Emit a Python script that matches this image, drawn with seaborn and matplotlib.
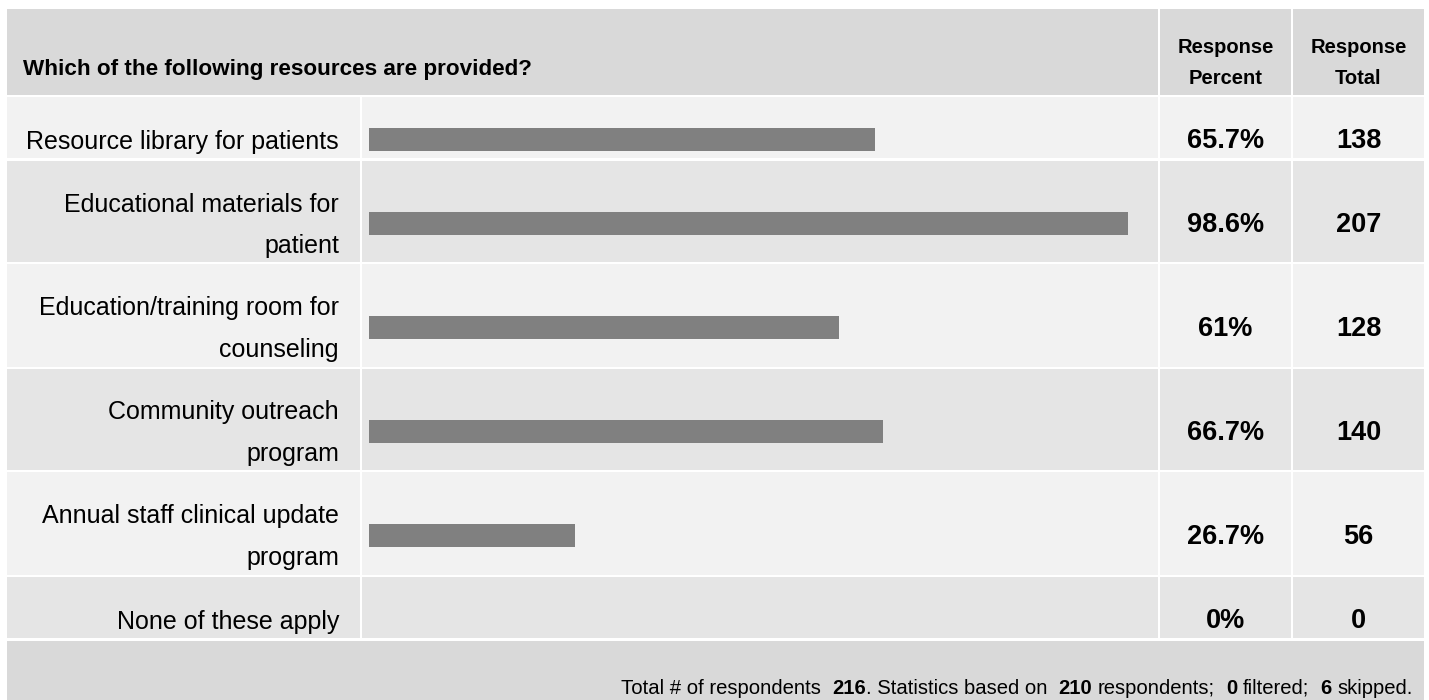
import matplotlib
matplotlib.use("Agg")
import seaborn as sns
from matplotlib import pyplot as plt
from matplotlib.patches import Rectangle

# survey data
question = "Which of the following resources are provided?"
answer_options = [
    "Resource library for patients",
    "Educational materials for\npatient",
    "Education/training room for\ncounseling",
    "Community outreach\nprogram",
    "Annual staff clinical update\nprogram",
    "None of these apply",
]
response_percent = [65.7, 98.6, 61.0, 66.7, 26.7, 0.0]
percent_labels = ["65.7%", "98.6%", "61%", "66.7%", "26.7%", "0%"]
response_total = [138, 207, 128, 140, 56, 0]
total_respondents = 216
answered = 210
filtered = 0
skipped = 6

sns.set_theme(style="white")
plt.rcParams['font.family'] = ['Liberation Sans', 'DejaVu Sans']
plt.rcParams['text.color'] = 'black'

W, H = 1429, 700
fig = plt.figure(figsize=(W / 100, H / 100), dpi=100)
fig.patch.set_facecolor("white")

# background axes in pixel units, y pointing down
bg = fig.add_axes([0, 0, 1, 1])
bg.set_xlim(0, W)
bg.set_ylim(H, 0)
bg.axis('off')

HEAD_C = "#d9d9d9"
ROW_C = ["#f2f2f2", "#e5e5e5"]
BAR_C = "#808080"

# table geometry (pixels)
cols = [(7, 360), (362, 1158), (1160, 1291), (1293, 1424)]
header = (9, 95)
rows = [(97, 158), (161, 262), (264, 367), (369, 470), (472, 575), (577, 638)]
footer = (641, 700)


def cell(x0, x1, y0, y1, color):
    bg.add_patch(Rectangle((x0, y0), x1 - x0, y1 - y0, facecolor=color,
                           edgecolor="none", lw=0))


def px_axes(x0, y0, w, h):
    return fig.add_axes([x0 / W, 1 - (y0 + h) / H, w / W, h / H])


# header row
cell(cols[0][0], cols[1][1], header[0], header[1], HEAD_C)
cell(cols[2][0], cols[2][1], header[0], header[1], HEAD_C)
cell(cols[3][0], cols[3][1], header[0], header[1], HEAD_C)
bg.text(23, 75, question, fontsize=16.2, fontweight="bold", ha="left", va="baseline")
for c, word in zip(cols[2:], ["Percent", "Total"]):
    xc = (c[0] + c[1]) / 2
    bg.text(xc, 53, "Response", fontsize=14.5, fontweight="bold", ha="center", va="baseline")
    bg.text(xc, 84, word, fontsize=14.5, fontweight="bold", ha="center", va="baseline")

LABEL_FS = 18
NUM_FS = 19.5
EM = LABEL_FS * 100 / 72
BAR_X0 = 369
BAR_W100 = 770   # pixel width of 100 %
BAR_H = 23

for i, (top, bottom) in enumerate(rows):
    color = ROW_C[i % 2]
    for c in cols:
        cell(c[0], c[1], top, bottom, color)
    cy = (top + bottom) / 2 + 12

    lines = answer_options[i].split("\n")
    n = len(lines)
    for j, line in enumerate(lines):
        y = cy + (j - (n - 1) / 2) * 42
        bg.text(339, y + 0.36 * EM, line, fontsize=LABEL_FS, ha="right", va="baseline")

    bg.text((cols[2][0] + cols[2][1]) / 2, cy + 0.36 * EM, percent_labels[i],
            fontsize=NUM_FS, fontweight="bold", ha="center", va="baseline")
    bg.text((cols[3][0] + cols[3][1]) / 2, cy + 0.36 * EM, str(response_total[i]),
            fontsize=NUM_FS, fontweight="bold", ha="center", va="baseline")

    ax = px_axes(BAR_X0, cy - BAR_H / 2, BAR_W100, BAR_H)
    sns.barplot(x=[response_percent[i]], y=[answer_options[i]], orient="h",
                color=BAR_C, saturation=1, width=1, linewidth=0, ax=ax)
    ax.set_xlim(0, 100)
    ax.set_ylim(0.5, -0.5)
    ax.axis("off")
    ax.patch.set_alpha(0)

# footer
cell(cols[0][0], cols[3][1], footer[0], footer[1], HEAD_C)
FOOT_FS = 14.6
FOOT_BASE = 694
pieces = [
    ("Total # of respondents", False, 0),
    (str(total_respondents), True, 2),
    (". Statistics based on", False, 0),
    (str(answered), True, 2),
    ("respondents;", False, 1),
    (str(filtered), True, 2),
    ("filtered;", False, 1),
    (str(skipped), True, 2),
    ("skipped.", False, 1),
]
renderer = fig.canvas.get_renderer()
t1 = bg.text(0, 0, "x x", fontsize=FOOT_FS)
t2 = bg.text(0, 0, "xx", fontsize=FOOT_FS)
space = t1.get_window_extent(renderer).width - t2.get_window_extent(renderer).width
t1.remove()
t2.remove()

texts = []
total_w = 0
for txt, bold, gap in pieces:
    t = bg.text(0, FOOT_BASE, txt, fontsize=FOOT_FS,
                fontweight="bold" if bold else "normal", ha="left", va="baseline")
    w = t.get_window_extent(renderer).width
    texts.append((t, w, gap))
    total_w += w + gap * space

x = 1413 - total_w
for t, w, gap in texts:
    x += gap * space
    t.set_x(x)
    x += w

fig.savefig("out.png", dpi=100)
